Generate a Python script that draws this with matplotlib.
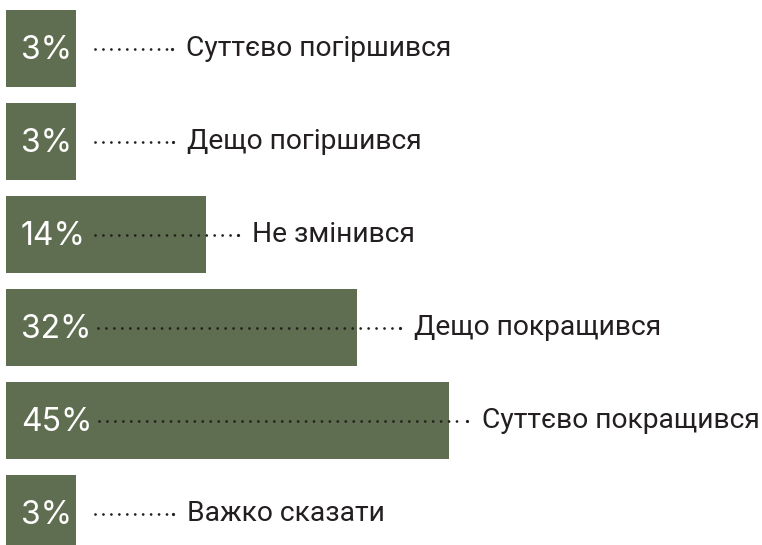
import matplotlib.pyplot as plt
import numpy as np
from matplotlib.transforms import IdentityTransform

categories = ["Суттєво погіршився", "Дещо погіршився", "Не змінився",
              "Дещо покращився", "Суттєво покращився", "Важко сказати"]
values = [3, 3, 14, 32, 45, 3]
pct_labels = [f"{v}%" for v in values]

# layout: gap (px) between bar end and category label, per row
label_gap_px = [110, 111, 46, 57, 33, 111]

BAR_COLOR = "#5f6e50"
TEXT_COLOR = "#231f20"
P = 0.68  # bar length grows as value**P, like the original design


def fwd(x):
    x = np.asarray(x, dtype=float)
    return np.sign(x) * np.abs(x) ** P


def inv(y):
    y = np.asarray(y, dtype=float)
    return np.sign(y) * np.abs(y) ** (1 / P)


fig = plt.figure(figsize=(7.62, 5.45), dpi=100)
ax = fig.add_axes([0, 0, 1, 1])
ax.set_xscale("function", functions=(fwd, inv))
ax.set_xlim(-0.0804, 98.8)
ax.set_ylim(5.339, -0.5215)
ax.axis("off")

y = np.arange(len(values))
ax.barh(y, values, height=0.828, color=BAR_COLOR, left=0)

pct_texts, cat_texts = [], []
for i, (v, pl, cat) in enumerate(zip(values, pct_labels, categories)):
    t = ax.annotate(pl, xy=(0, i), xytext=(15, -2), textcoords="offset pixels",
                    ha="left", va="center", color="white", fontsize=23,
                    family=["Inter", "DejaVu Sans"])
    c = ax.annotate(cat, xy=(v, i), xytext=(label_gap_px[i], 0),
                    textcoords="offset pixels", ha="left", va="center",
                    color=TEXT_COLOR, fontsize=20.3,
                    family=["Roboto", "DejaVu Sans"])
    pct_texts.append(t)
    cat_texts.append(c)

# dotted leaders between percentage and label
fig.canvas.draw()
renderer = fig.canvas.get_renderer()
for i, (t, c) in enumerate(zip(pct_texts, cat_texts)):
    bt = t.get_window_extent(renderer)
    bc = c.get_window_extent(renderer)
    yc = ax.transData.transform((1, i))[1] - 1
    x0 = max(bt.x1 + 7, 95)
    x1 = bc.x0 - 18
    ax.plot([x0, x1], [yc, yc], transform=IdentityTransform(),
            color=TEXT_COLOR, lw=2.0, linestyle=(0, (0.01, 2.85)),
            dash_capstyle="round")
    ax.plot([x1 + 3.5], [yc], transform=IdentityTransform(), marker="o",
            ms=2.3, color=TEXT_COLOR, mew=0)

fig.savefig("out.png", dpi=100)
